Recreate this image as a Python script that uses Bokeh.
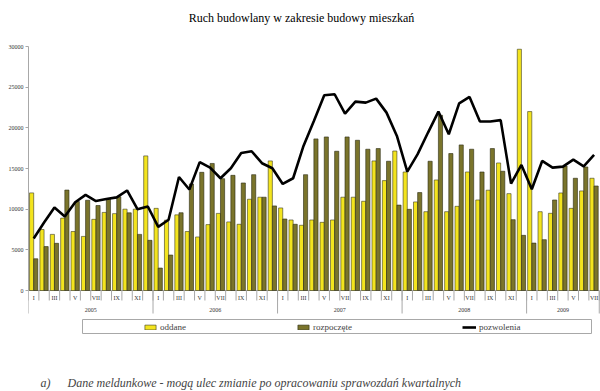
from bokeh.plotting import figure
from bokeh.models import (Range1d, FixedTicker, Legend, LegendItem, Label, ColumnDataSource)
from bokeh.embed import file_html
from bokeh.resources import INLINE

# ---------------- data ----------------
years = ["2005", "2006", "2007", "2008", "2009"]
months_per_year = [12, 12, 12, 12, 7]
month_names = ["I", "II", "III", "IV", "V", "VI", "VII", "VIII", "IX", "X", "XI", "XII"]

oddane = [12000, 7500, 6900, 8900, 7250, 6650, 8750, 9600, 9450, 10000, 10000, 16550,
          10100, 8650, 9300, 7250, 6580, 8100, 9480, 8430, 8140, 11220, 11470, 15930,
          10150, 8670, 8020, 8670, 8380, 8670, 11470, 11470, 10970, 15930, 13510, 17150,
          14570, 10890, 9690, 13590, 9690, 10350, 14570, 11130, 12330, 15680, 11910, 29660,
          22000, 9690, 9490, 11990, 10100, 12240, 13800]

rozpoczete = [3900, 5400, 5800, 12350, 10950, 11100, 10450, 11300, 11520, 9550, 6900, 6170,
              2760, 4360, 9560, 13100, 14530, 15620, 13750, 14160, 13220, 14240, 11470, 10400,
              8790, 8140, 14240, 18640, 18880, 17120, 18880, 18470, 17370, 17450, 15890, 10500,
              9980, 12040, 15890, 21540, 16840, 17900, 17370, 14570, 17450, 14660, 8710, 6780,
              5830, 6250, 11130, 15310, 13800, 15190, 12850]

pozwolenia = [6400, 8350, 10200, 9100, 10850, 11750, 11000, 11250, 11450, 12300, 10000, 10330,
              7820, 8700, 13950, 12420, 15780, 15100, 13800, 15030, 16910, 17120, 15650, 15030,
              13100, 13800, 17770, 20850, 24000, 24130, 21750, 23220, 23100, 23590, 21870, 19000,
              14620, 16760, 19420, 22000, 19210, 23000, 23800, 20780, 20780, 20950, 13140, 15440,
              12440, 15930, 15110, 15230, 16100, 15270, 16670]

y_ticks = [0, 5000, 10000, 15000, 20000, 25000, 30000]
series_names = ["oddane", "rozpoczęte", "pozwolenia"]

title_text = "Ruch budowlany w zakresie budowy mieszkań"
footnote_mark = "a)"
footnote_text = "Dane meldunkowe - mogą ulec zmianie po opracowaniu sprawozdań kwartalnych"

# ---------------- styling / geometry ----------------
FONT = "Liberation Serif"
YELLOW = "#F3E41E"
OLIVE = "#7A742B"
GREY = "#a8a8a8"
TXT = "#333333"

W, H = 600, 391
LEFT = 28           # frame left (y axis line)
TOP_PX = 46         # canvas y of value 30000
ZERO_PX = 290       # canvas y of value 0
Y_MAX = 30000
per_px = Y_MAX / (ZERO_PX - TOP_PX)
R_TOP = Y_MAX + TOP_PX * per_px
R_BOT = -(H - ZERO_PX) * per_px


def below(px):
    """data y of a point px pixels below the zero line"""
    return -px * per_px


n = len(oddane)
X_END = n + 0.12
x_per_px = X_END / (W - LEFT)
pos = list(range(n))
months = [month_names[k] for m in months_per_year for k in range(m)]

src = ColumnDataSource(dict(
    x_odd=[i + 0.3 for i in pos],
    x_roz=[i + 0.7 for i in pos],
    x_mid=[i + 0.5 for i in pos],
    oddane=oddane, rozpoczete=rozpoczete, pozwolenia=pozwolenia))

p = figure(width=W, height=H, x_range=Range1d(0, X_END), y_range=Range1d(R_BOT, R_TOP),
           output_backend="svg", toolbar_location=None,
           min_border_left=LEFT, min_border_right=0, min_border_top=0, min_border_bottom=0)
p.outline_line_color = None
p.xgrid.visible = False
p.ygrid.visible = False
p.xaxis.visible = False

# category axis: baseline, month ticks, year separators
bounds = list(range(n + 1))
starts = [sum(months_per_year[:k]) for k in range(len(years))]
year_bounds = starts + [n]
p.segment(x0=[0], y0=[0], x1=[n], y1=[0], line_color=GREY, line_width=1)
p.segment(x0=bounds, y0=[0] * len(bounds), x1=bounds, y1=[below(10)] * len(bounds),
          line_color=GREY, line_width=1)
p.segment(x0=year_bounds, y0=[0] * len(year_bounds), x1=year_bounds,
          y1=[below(23)] * len(year_bounds), line_color=GREY, line_width=1)

odd_idx = [i for i in pos if months[i] in ("I", "III", "V", "VII", "IX", "XI")]
p.text(x=[i + 0.5 for i in odd_idx], y=[below(7)] * len(odd_idx),
       text=[months[i] for i in odd_idx], text_align="center", text_baseline="middle",
       text_font={"value": FONT}, text_font_size="6px", text_color=TXT)
year_centers = [s + m / 2 for s, m in zip(starts, months_per_year)]
p.text(x=year_centers, y=[below(19)] * len(years), text=years, text_align="center",
       text_baseline="middle", text_font={"value": FONT}, text_font_size="6px", text_color=TXT)

# data marks
r1 = p.vbar(x="x_odd", top="oddane", width=0.4, source=src,
            fill_color=YELLOW, line_color="#3a3a20", line_width=0.6)
r2 = p.vbar(x="x_roz", top="rozpoczete", width=0.4, source=src,
            fill_color=OLIVE, line_color="#2a2a12", line_width=0.6)
r3 = p.line(x="x_mid", y="pozwolenia", source=src, line_color="black", line_width=2.6)

# y axis
yax = p.yaxis[0]
yax.ticker = FixedTicker(ticks=y_ticks)
yax.bounds = (0, Y_MAX)
yax.major_label_text_font = FONT
yax.major_label_text_font_size = "6px"
yax.major_label_text_color = TXT
yax.axis_line_color = GREY
yax.major_tick_line_color = GREY
yax.major_tick_out = 3
yax.major_tick_in = 0
yax.minor_tick_line_color = None
yax.major_label_standoff = 2

# title (inside the full-height frame)
p.add_layout(Label(x=301 - LEFT, y=H - 17, x_units="screen", y_units="screen", text=title_text,
                   text_align="center", text_baseline="middle", text_font=FONT,
                   text_font_size="12px", text_color="black"))

# legend box and legend entries
p.quad(left=[(82 - LEFT) * x_per_px], right=[(591 - LEFT) * x_per_px],
       top=[below(319 - ZERO_PX)], bottom=[below(333 - ZERO_PX)],
       fill_color="white", line_color=GREY, line_width=1)

legend = Legend(items=[LegendItem(label=series_names[0], renderers=[r1]),
                       LegendItem(label=series_names[1], renderers=[r2]),
                       LegendItem(label=series_names[2], renderers=[r3])],
                orientation="horizontal", location=(115, H - 332), margin=0, padding=2,
                spacing=110, glyph_width=14, glyph_height=6, label_standoff=3,
                label_height=9, label_text_font=FONT, label_text_font_size="9px",
                border_line_color=None, background_fill_alpha=0)
p.add_layout(legend)

# footnote
p.add_layout(Label(x=40 - LEFT, y=H - 382, x_units="screen", y_units="screen", text=footnote_mark,
                   text_font=FONT, text_font_style="italic", text_font_size="12px",
                   text_baseline="alphabetic"))
p.add_layout(Label(x=67 - LEFT, y=H - 382, x_units="screen", y_units="screen", text=footnote_text,
                   text_font=FONT, text_font_style="italic", text_font_size="12px",
                   text_baseline="alphabetic"))

open("out.html", "w").write(file_html(p, INLINE))
